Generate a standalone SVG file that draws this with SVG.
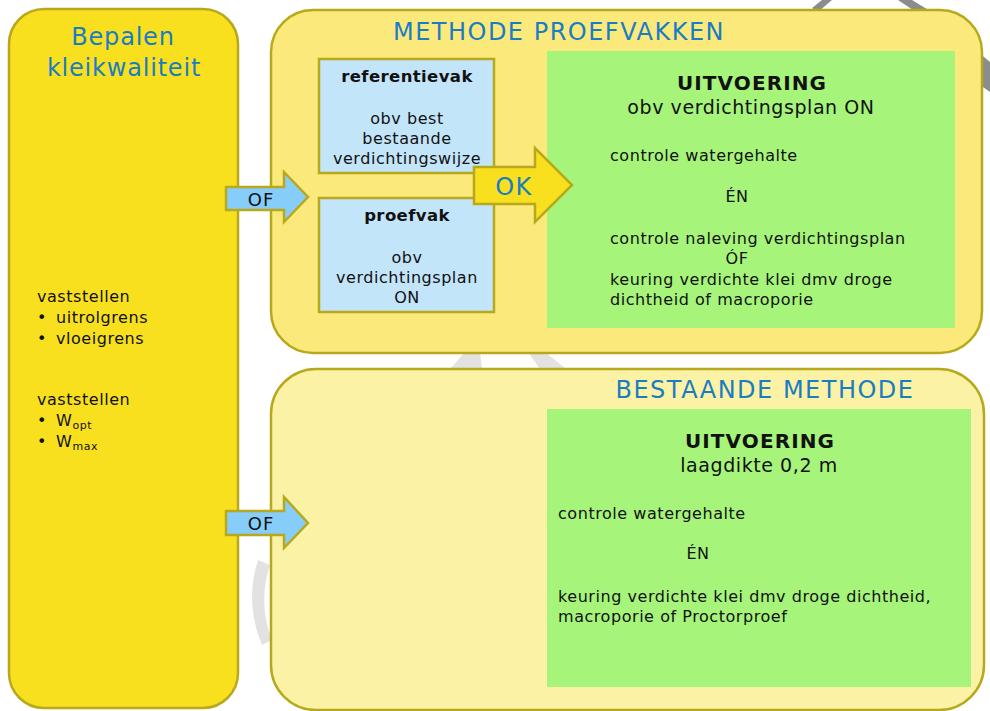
<svg xmlns="http://www.w3.org/2000/svg" width="990" height="711" viewBox="0 0 990 711">
<defs>
<style>
text{font-family:"DejaVu Sans","Verdana",sans-serif;fill:#111;}
.title{fill:#1A7DC2;font-size:24px;letter-spacing:1.5px;}
.lt{letter-spacing:0.8px;}
.t16{font-size:16px;letter-spacing:0.55px;}
.b16{font-size:16.5px;font-weight:bold;letter-spacing:0.4px;}
.t19{font-size:19px;letter-spacing:0.57px;}
.b19{font-size:20px;font-weight:bold;letter-spacing:1.1px;}
.c{text-anchor:middle;}
.ol{stroke:#B8A91C;stroke-width:2.5;}
.wm{fill:#E2E2E2;}
.wmd{fill:#8C8C8C;}
</style>
</defs>
<rect width="990" height="711" fill="#FFFFFF"/>
<g id="watermark">
<path class="wm" d="M258,560 A120,120 0 0 0 262,645 L272,640 A110,110 0 0 1 270,565 Z"/>
<polygon class="wm" points="450,369 465,352 480,352 482,369"/>
<polygon class="wm" points="528,352 545,352 566,369 540,369"/>
<polygon class="wmd" points="812,8 822,0 832,0 818,12"/>
<polygon class="wmd" points="898,0 912,0 935,14 922,16"/>
<polygon class="wmd" points="978,52 990,62 990,92 980,85"/>
</g>
<g id="left-box">
<rect x="9" y="9" width="229" height="699" rx="35" fill="#F8E01E" class="ol"/>
<text class="title lt c" x="123" y="45">Bepalen</text>
<text class="title lt c" x="124" y="76">kleikwaliteit</text>
<text class="t16" x="37" y="302">vaststellen</text>
<text class="t16" x="37" y="323">•</text><text class="t16" x="56" y="323">uitrolgrens</text>
<text class="t16" x="37" y="344">•</text><text class="t16" x="56" y="344">vloeigrens</text>
<text class="t16" x="37" y="405">vaststellen</text>
<text class="t16" x="37" y="426">•</text><text class="t16" x="56" y="426">W<tspan font-size="11" dy="3">opt</tspan></text>
<text class="t16" x="37" y="447">•</text><text class="t16" x="56" y="447">W<tspan font-size="11" dy="3">max</tspan></text>
</g>
<g id="methode-proefvakken">
<rect x="271" y="10" width="711" height="343" rx="42" fill="#FCE97B" class="ol"/>
<text class="title c" x="559" y="40">METHODE PROEFVAKKEN</text>
</g>
<g id="bestaande-methode">
<rect x="271" y="369" width="713" height="341" rx="45" fill="#FBF2A5" class="ol"/>
<text class="title c" x="765" y="398">BESTAANDE METHODE</text>
</g>
<g id="referentievak">
<rect x="319" y="59" width="175" height="114" fill="#C3E5FA" class="ol"/>
<text class="b16 c" x="407" y="82">referentievak</text>
<text class="t16 c" x="407" y="124">obv best</text>
<text class="t16 c" x="407" y="144">bestaande</text>
<text class="t16 c" x="407" y="164">verdichtingswijze</text>
</g>
<g id="proefvak">
<rect x="319" y="198" width="175" height="114" fill="#C3E5FA" class="ol"/>
<text class="b16 c" x="407" y="221">proefvak</text>
<text class="t16 c" x="407" y="263">obv</text>
<text class="t16 c" x="407" y="283">verdichtingsplan</text>
<text class="t16 c" x="407" y="303">ON</text>
</g>
<g id="uitvoering-proefvakken">
<rect x="547" y="51" width="408" height="277" fill="#A6F47A"/>
<text class="b19 c" x="752" y="90">UITVOERING</text>
<text class="t19 c" x="751" y="114">obv verdichtingsplan ON</text>
<text class="t16" x="610" y="161">controle watergehalte</text>
<text class="t16 c" x="737" y="202">ÉN</text>
<text class="t16" x="610" y="244">controle naleving verdichtingsplan</text>
<text class="t16 c" x="737" y="264">ÓF</text>
<text class="t16" x="610" y="285">keuring verdichte klei dmv droge</text>
<text class="t16" x="610" y="305">dichtheid of macroporie</text>
</g>
<g id="uitvoering-bestaand">
<rect x="547" y="409" width="424" height="278" fill="#A6F47A"/>
<text class="b19 c" x="760" y="448">UITVOERING</text>
<text class="t19 c" x="759" y="472">laagdikte 0,2 m</text>
<text class="t16" x="558" y="519">controle watergehalte</text>
<text class="t16 c" x="698" y="559">ÉN</text>
<text class="t16" x="558" y="602">keuring verdichte klei dmv droge dichtheid,</text>
<text class="t16" x="558" y="622">macroporie of Proctorproef</text>
</g>
<g id="connectors">
<g id="arrow-of-1">
<polygon points="226,187 284,187 284,172 308,197 284,222 284,210 226,210" fill="#86CDF9" class="ol"/>
<text class="c" x="261" y="206" font-size="18" letter-spacing="1">OF</text>
</g>
<g id="arrow-of-2">
<polygon points="226,511 284,511 284,497 308,523 284,548 284,535 226,535" fill="#86CDF9" class="ol"/>
<text class="c" x="261" y="530" font-size="18" letter-spacing="1">OF</text>
</g>
<g id="arrow-ok">
<polygon points="474,167 535,167 535,148 572,185 535,222 535,204 474,204" fill="#F8E01E" class="ol"/>
<text class="c" x="514" y="195" font-size="24" letter-spacing="1.5" style="fill:#1A7DC2">OK</text>
</g>
</g>
</svg>
